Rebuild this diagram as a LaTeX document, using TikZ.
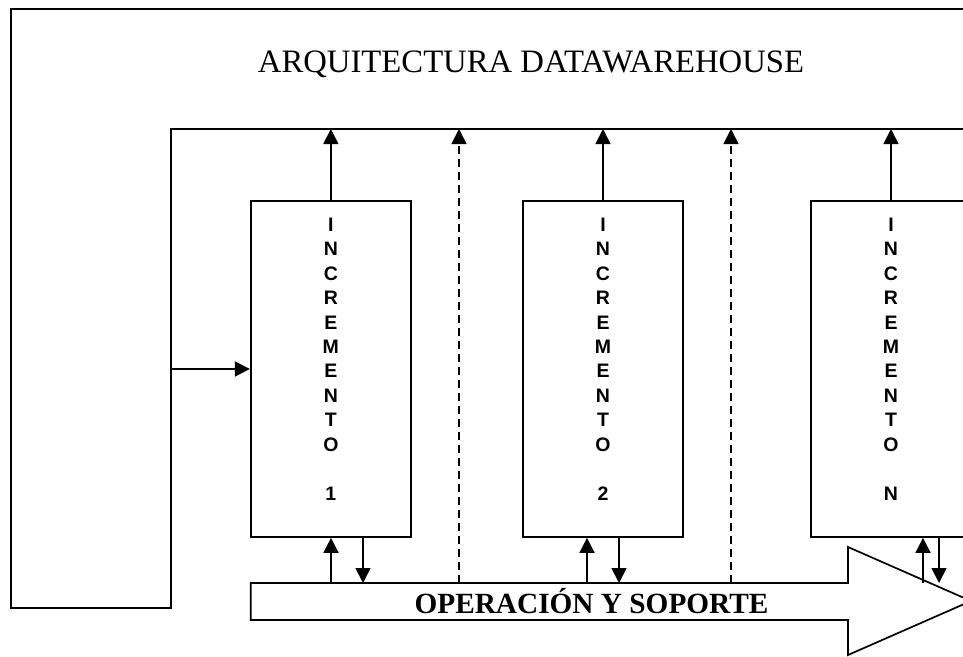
\documentclass[tikz,border=0pt]{standalone}
\usepackage{fontspec}
\setmainfont{Liberation Serif}
\newfontfamily\incfont{Liberation Sans Bold}
\usetikzlibrary{arrows.meta}
\begin{document}
\begin{tikzpicture}[x=1pt, y=-1pt, line width=1.7pt,
  link/.style={-{Triangle[length=15pt,width=15pt]}},
  guide/.style={link, dash pattern=on 8pt off 5pt},
  incbox/.style={draw, minimum width=160.3pt, minimum height=336pt, inner sep=0pt},
  inclabel/.style={font=\incfont\fontsize{19.5}{24.45}\selectfont,
                   align=center, anchor=north, inner sep=0pt}]
  \useasboundingbox (0,0) rectangle (963,656);
  \clip (0,0) rectangle (963,656);

  % title
  \node[font=\fontsize{32.7}{36}\selectfont, anchor=base, inner sep=0pt]
    (title) at (531,72.3) {ARQUITECTURA DATAWAREHOUSE};

  % outer frame and the feedback bus
  \coordinate (bus) at (171,129);
  \coordinate (feed) at (171,369);
  \draw (990,129) -- (bus) -- (171,608) -- (11,608) -- (11,9) -- (990,9);

  % increments
  \node[incbox] (inc1) at (330.85,369) {};
  \node[incbox] (inc2) at (603,369) {};
  \node[incbox] (incN) at (891,369) {};
  \node[inclabel] (t1) at (330.85,217) {I\\N\\C\\R\\E\\M\\E\\N\\T\\O\\[24.45pt]1};
  \node[inclabel] (t2) at (603,217) {I\\N\\C\\R\\E\\M\\E\\N\\T\\O\\[24.45pt]2};
  \node[inclabel] (tN) at (891,217) {I\\N\\C\\R\\E\\M\\E\\N\\T\\O\\[24.45pt]N};

  % operation and support arrow
  \draw (250.7,583) -- (848,583) -- (848,547) -- (971,601) -- (848,655)
        -- (848,620) -- (250.7,620) -- cycle;
  \node[font=\bfseries\fontsize{29.3}{32}\selectfont, anchor=base, inner sep=0pt]
    (ops) at (591.5,613) {OPERACIÓN Y SOPORTE};

  % connections to the bus
  \draw[link] (feed) -- (inc1.west);
  \draw[link] (inc1.north) -- (inc1.north |- bus);
  \draw[link] (inc2.north) -- (inc2.north |- bus);
  \draw[link] (incN.north) -- (incN.north |- bus);
  \coordinate (g1) at (459,583);
  \coordinate (g2) at (731,583);
  \draw[guide] (g1) -- (g1 |- bus);
  \draw[guide] (g2) -- (g2 |- bus);

  % exchanges with operation and support
  \coordinate (u1) at (331,583);  \coordinate (d1) at (363,583);
  \coordinate (u2) at (587,583);  \coordinate (d2) at (619,583);
  \coordinate (uN) at (923,583);  \coordinate (dN) at (939,583);
  \draw[link] (u1) -- (u1 |- inc1.south);
  \draw[link] (d1 |- inc1.south) -- (d1);
  \draw[link] (u2) -- (u2 |- inc2.south);
  \draw[link] (d2 |- inc2.south) -- (d2);
  \draw[link] (uN) -- (uN |- incN.south);
  \draw[link] (dN |- incN.south) -- (dN);
\end{tikzpicture}
\end{document}
